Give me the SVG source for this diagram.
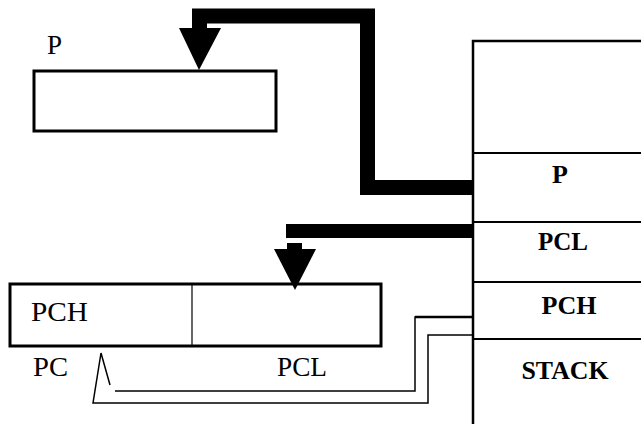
<svg xmlns="http://www.w3.org/2000/svg" width="641" height="424" viewBox="0 0 641 424">
<style>
.box{fill:#fff;stroke:#000;stroke-width:3}
.thin{fill:none;stroke:#000;stroke-width:1.5}
.reg{font-family:"Liberation Serif",serif;font-size:27px;fill:#000}
.bold{font-family:"Liberation Serif",serif;font-size:26px;font-weight:bold;fill:#000;text-anchor:middle}
</style>
<rect width="641" height="424" fill="#fff"/>
<g id="regP">
<rect class="box" x="34" y="71" width="242" height="60"/>
<text class="reg" x="47" y="54">P</text>
</g>
<g id="stack">
<rect x="473" y="41" width="172" height="390" fill="#fff" stroke="#000" stroke-width="2.5"/>
<line x1="473" y1="153" x2="641" y2="153" stroke="#000" stroke-width="2"/>
<line x1="473" y1="222" x2="641" y2="222" stroke="#000" stroke-width="2"/>
<line x1="473" y1="282" x2="641" y2="282" stroke="#000" stroke-width="2"/>
<line x1="473" y1="339" x2="641" y2="339" stroke="#000" stroke-width="2"/>
<text class="bold" x="560" y="183">P</text>
<text class="bold" x="563" y="250" textLength="50" lengthAdjust="spacingAndGlyphs">PCL</text>
<text class="bold" x="569" y="314" textLength="55" lengthAdjust="spacingAndGlyphs">PCH</text>
<text class="bold" x="565" y="379" textLength="87" lengthAdjust="spacingAndGlyphs">STACK</text>
</g>
<g id="pc">
<rect class="box" x="10" y="284" width="371" height="62"/>
<line x1="192" y1="285" x2="192" y2="345" stroke="#000" stroke-width="1.2"/>
<text class="reg" x="31" y="321" textLength="57" lengthAdjust="spacingAndGlyphs">PCH</text>
<text class="reg" x="33" y="376" textLength="35" lengthAdjust="spacingAndGlyphs">PC</text>
<text class="reg" x="277" y="376" textLength="50" lengthAdjust="spacingAndGlyphs">PCL</text>
</g>
<g id="connectors">
<path d="M199.5,29 V16 H367.5 V187.5 H473" fill="none" stroke="#000" stroke-width="15"/>
<polygon points="179,28 221,28 199,70" fill="#000"/>
<rect x="286" y="224" width="187" height="14" fill="#000"/>
<rect x="287" y="243" width="15" height="7" fill="#000"/>
<polygon points="274,249 316,249 295,290" fill="#000"/>
<polyline class="thin" points="110,385 101,353 93,403 428,403 428,335 473,335"/>
<polyline class="thin" points="115,391 415,391 415,317 473,317"/>
<line x1="415" y1="317" x2="473" y2="317" stroke="#000" stroke-width="2.5"/>
</g>
</svg>
